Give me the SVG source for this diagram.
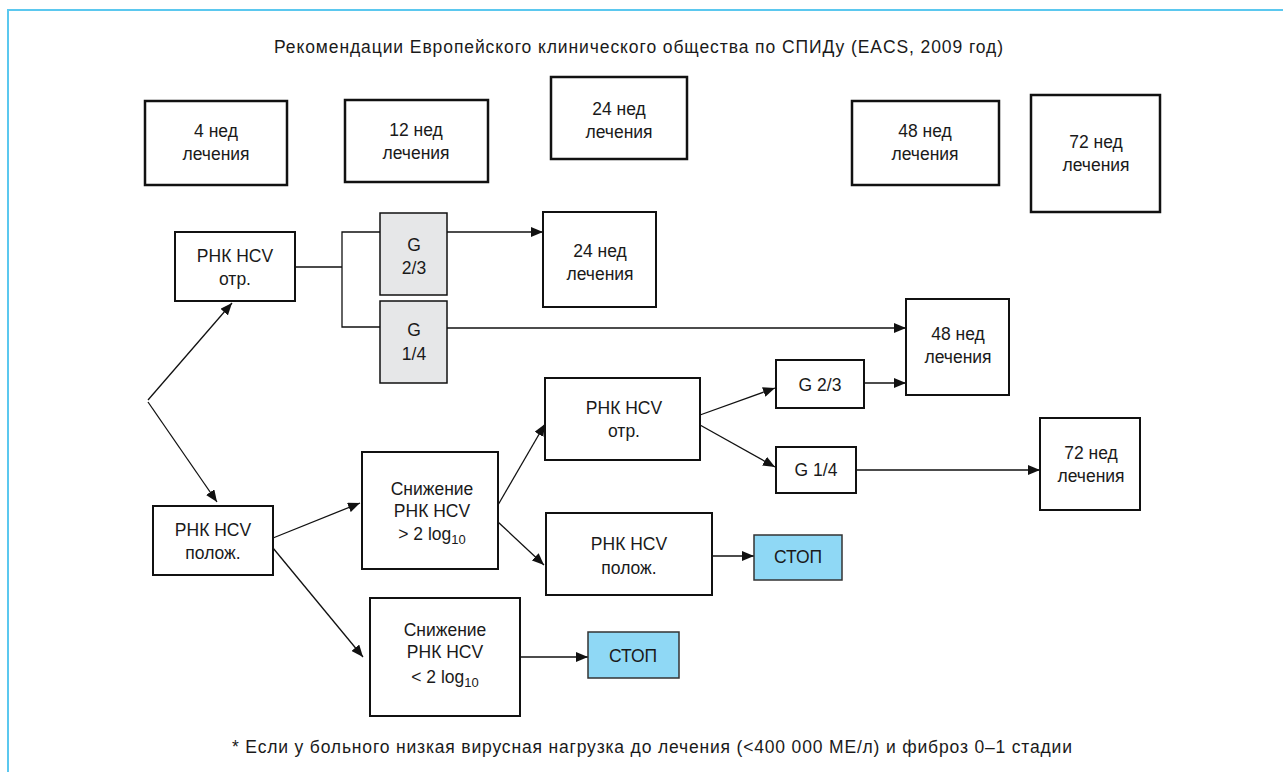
<svg xmlns="http://www.w3.org/2000/svg" width="1283" height="772" viewBox="0 0 1283 772">
<defs>
<marker id="arr" viewBox="0 0 12 10" refX="12" refY="5" markerWidth="12" markerHeight="10" markerUnits="userSpaceOnUse" orient="auto">
<path d="M0,0 L12,5 L0,10 Z" fill="#111"/>
</marker>
<style>
.t{font-family:"Liberation Sans",Arial,sans-serif;font-size:17.5px;fill:#1a1a1a;text-anchor:middle}
.b{fill:#fff;stroke:#111;stroke-width:2}
.bt{fill:#fff;stroke:#111;stroke-width:2.5}
.g{fill:#e6e7e8;stroke:#111;stroke-width:1.5}
.s{fill:#8fd8f5;stroke:#333;stroke-width:1.5}
.c{fill:none;stroke:#111;stroke-width:1.3}
.a{fill:none;stroke:#111;stroke-width:1.3;marker-end:url(#arr)}
.sub{font-size:13px}
</style>
</defs>
<rect width="1283" height="772" fill="#fff"/>
<path d="M1283,10 H8 V772" fill="none" stroke="#5bc8ef" stroke-width="2"/>
<text class="t" x="638.5" y="53" font-size="17" textLength="729" lengthAdjust="spacing">Рекомендации Европейского клинического общества по СПИДу (EACS, 2009 год)</text>

<g id="connectors">
<path class="c" d="M295,267 H342 V232 H380 M342,267 V327 H380"/>
<line class="a" x1="447" y1="232" x2="543" y2="232"/>
<line class="a" x1="447" y1="328" x2="906" y2="328"/>
<line class="a" x1="148" y1="400" x2="232" y2="303"/>
<line class="a" x1="148" y1="402" x2="217" y2="502"/>
<line class="a" x1="273" y1="538" x2="360" y2="503"/>
<line class="a" x1="273" y1="548" x2="363" y2="657"/>
<line class="a" x1="498" y1="505" x2="545" y2="424"/>
<line class="a" x1="498" y1="522" x2="544" y2="565"/>
<line class="a" x1="700" y1="415" x2="775" y2="388"/>
<line class="a" x1="700" y1="425" x2="775" y2="467"/>
<line class="a" x1="864" y1="383" x2="906" y2="383"/>
<line class="a" x1="856" y1="470" x2="1040" y2="470"/>
<line class="a" x1="712" y1="556" x2="754" y2="556"/>
<line class="a" x1="520" y1="657" x2="588" y2="657"/>
</g>

<g id="w4"><rect class="bt" x="145" y="101" width="142" height="84"/><text class="t" x="216" y="137">4 нед</text><text class="t" x="216" y="160">лечения</text></g>
<g id="w12"><rect class="bt" x="345" y="100" width="143" height="82"/><text class="t" x="416" y="136">12 нед</text><text class="t" x="416" y="159">лечения</text></g>
<g id="w24"><rect class="bt" x="551" y="77" width="136" height="82"/><text class="t" x="619" y="115">24 нед</text><text class="t" x="619" y="138">лечения</text></g>
<g id="w48"><rect class="bt" x="852" y="101" width="147" height="84"/><text class="t" x="925" y="137">48 нед</text><text class="t" x="925" y="160">лечения</text></g>
<g id="w72"><rect class="bt" x="1031" y="95" width="129" height="117"/><text class="t" x="1096" y="148">72 нед</text><text class="t" x="1096" y="171">лечения</text></g>

<g id="rnk-neg1"><rect class="b" x="175" y="232" width="120" height="69"/><text class="t" x="235" y="262">РНК HCV</text><text class="t" x="235" y="285">отр.</text></g>
<g id="g23a"><rect class="g" x="380" y="213" width="67" height="82"/><text class="t" x="414" y="251">G</text><text class="t" x="414" y="274">2/3</text></g>
<g id="g14a"><rect class="g" x="380" y="301" width="67" height="82"/><text class="t" x="414" y="336">G</text><text class="t" x="414" y="360">1/4</text></g>
<g id="r24"><rect class="b" x="543" y="212" width="113" height="95"/><text class="t" x="600" y="257">24 нед</text><text class="t" x="600" y="280">лечения</text></g>
<g id="r48"><rect class="b" x="906" y="299" width="103" height="96"/><text class="t" x="958" y="340">48 нед</text><text class="t" x="958" y="363">лечения</text></g>
<g id="rnk-neg2"><rect class="b" x="545" y="378" width="155" height="82"/><text class="t" x="624" y="414">РНК HCV</text><text class="t" x="624" y="437">отр.</text></g>
<g id="g23b"><rect class="b" x="776" y="360" width="88" height="48"/><text class="t" x="820" y="391">G 2/3</text></g>
<g id="g14b"><rect class="b" x="776" y="447" width="80" height="46"/><text class="t" x="816" y="476">G 1/4</text></g>
<g id="r72"><rect class="b" x="1040" y="418" width="100" height="92"/><text class="t" x="1091" y="459">72 нед</text><text class="t" x="1091" y="482">лечения</text></g>
<g id="rnk-pos1"><rect class="b" x="153" y="506" width="120" height="69"/><text class="t" x="213" y="536">РНК HCV</text><text class="t" x="213" y="559">полож.</text></g>
<g id="dec-gt"><rect class="b" x="362" y="452" width="136" height="117"/><text class="t" x="432" y="495">Снижение</text><text class="t" x="432" y="517">РНК HCV</text><text class="t" x="432" y="540">&gt; 2 log<tspan class="sub" dy="4">10</tspan></text></g>
<g id="rnk-pos2"><rect class="b" x="546" y="513" width="166" height="82"/><text class="t" x="629" y="550">РНК HCV</text><text class="t" x="629" y="574">полож.</text></g>
<g id="stop1"><rect class="s" x="754" y="535" width="88" height="45"/><text class="t" x="798" y="563">СТОП</text></g>
<g id="dec-lt"><rect class="b" x="370" y="598" width="150" height="118"/><text class="t" x="445" y="636">Снижение</text><text class="t" x="445" y="658">РНК HCV</text><text class="t" x="445" y="683">&lt; 2 log<tspan class="sub" dy="4">10</tspan></text></g>
<g id="stop2"><rect class="s" x="588" y="632" width="91" height="46"/><text class="t" x="633" y="662">СТОП</text></g>

<text class="t" x="652" y="753" font-size="17" textLength="840" lengthAdjust="spacing">* Если у больного низкая вирусная нагрузка до лечения (&lt;400 000 МЕ/л) и фиброз 0–1 стадии</text>
</svg>
